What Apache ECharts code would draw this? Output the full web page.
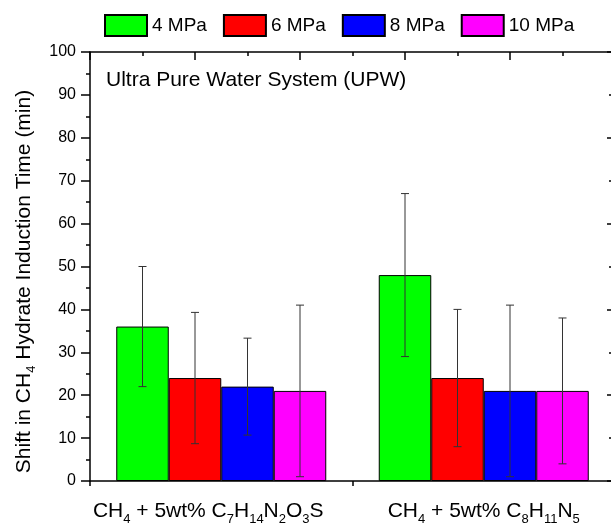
<!DOCTYPE html>
<html>
<head>
<meta charset="utf-8">
<script src="https://cdn.jsdelivr.net/npm/echarts@6/dist/echarts.min.js"></script>
<style>
html,body{margin:0;padding:0;background:#fff}
#chart{width:611px;height:527px}
</style>
</head>
<body>
<div id="chart"></div>
<script>
// values (min), error = half the bar's whisker span
var categories = ["CH4 + 5wt% C7H14N2O3S", "CH4 + 5wt% C8H11N5"]
var pressures = ["4 MPa", "6 MPa", "8 MPa", "10 MPa"]
var colors = ["#00ff00", "#ff0000", "#0000ff", "#ff00ff"]
var p4 = [36, 48]
var p6 = [24, 24]
var p8 = [22, 21]
var p10 = [21, 21]
var err4 = [14, 19]
var err6 = [15.3, 16]
var err8 = [11.3, 20]
var err10 = [20, 17]
var yMin = 0, yMax = 100, yStep = 10
var yTitle = "Shift in CH4 Hydrate Induction Time (min)"
var boxText = "Ultra Pure Water System (UPW)"

var values = [p4, p6, p8, p10]
var errors = [err4, err6, err8, err10]
var font = '"Liberation Sans", Arial, sans-serif'

// turn the digits after an element symbol into subscripts
function subs(s){
  return s.replace(/([A-Za-z])(\d+)/g, "$1{s|$2}")
}

var barSeries = values.map(function(v, k){
  return {
    name: pressures[k],
    type: "bar",
    data: v,
    barGap: "0%",
    barCategoryGap: "20%",
    itemStyle: {color: colors[k], borderColor: "#000", borderWidth: 1},
    emphasis: {disabled: true}
  }
})

var errSeries = values.map(function(v, k){
  return {
    type: "custom",
    z: 5,
    silent: true,
    encode: {x: 0, y: [1, 2]},
    data: v.map(function(val, i){ return [i, val - errors[k][i], val + errors[k][i]] }),
    renderItem: function(params, api){
      var band = api.size([1, 0])[0]
      var bw = band * 0.8 / 4
      var lo = api.coord([api.value(0), api.value(1)])
      var hi = api.coord([api.value(0), api.value(2)])
      var x = lo[0] + (k - 1.5) * bw
      var c = 4
      var st = {stroke: "#333", lineWidth: 1}
      return {type: "group", children: [
        {type: "line", shape: {x1: x, y1: hi[1], x2: x, y2: lo[1]}, style: st},
        {type: "line", shape: {x1: x - c, y1: hi[1], x2: x + c, y2: hi[1]}, style: st},
        {type: "line", shape: {x1: x - c, y1: lo[1], x2: x + c, y2: lo[1]}, style: st}
      ]}
    }
  }
})

var black = {color: "#000", width: 1.5}

var myChart = echarts.init(document.getElementById("chart"))
myChart.setOption({
  animation: false,
  textStyle: {fontFamily: font, color: "#000"},
  grid: {left: 90, right: -4, top: 52, bottom: 46, outerBoundsMode: "none", containLabel: false},
  title: {
    text: boxText,
    left: 106,
    top: 70,
    padding: 0,
    textStyle: {fontFamily: font, fontSize: 21, fontWeight: "normal", color: "#000"}
  },
  legend: {
    data: pressures,
    left: 104,
    top: 14,
    padding: 0,
    itemWidth: 42,
    itemHeight: 21,
    itemGap: 16,
    icon: "rect",
    textStyle: {fontFamily: font, fontSize: 19, color: "#000"}
  },
  xAxis: [
    {
      type: "category",
      data: categories,
      position: "bottom",
      axisLine: {onZero: false, lineStyle: black},
      axisTick: {alignWithLabel: true, interval: 0, length: 9, lineStyle: black},
      axisLabel: {
        interval: 0,
        margin: 15,
        fontSize: 21,
        lineHeight: 30,
        color: "#000",
        formatter: function(v, i){ return subs(v) + (i === 0 ? "{gap|}" : "") },
        rich: {
          s: {fontSize: 13, lineHeight: 12, verticalAlign: "bottom", color: "#000"},
          gap: {width: 26}
        }
      }
    },
    {
      type: "value",
      position: "top",
      min: 0, max: 5, interval: 1,
      axisLine: {onZero: false, lineStyle: black},
      axisTick: {inside: true, length: 8, lineStyle: black},
      minorTick: {show: true, splitNumber: 2, length: 4, lineStyle: black},
      axisLabel: {show: false},
      splitLine: {show: false}
    },
    {
      type: "value",
      position: "bottom",
      min: 0, max: 2, interval: 1,
      axisLine: {show: false, onZero: false},
      axisTick: {length: 5, lineStyle: black},
      axisLabel: {show: false},
      splitLine: {show: false}
    }
  ],
  yAxis: [
    {
      type: "value",
      position: "left",
      min: yMin, max: yMax, interval: yStep,
      axisLine: {show: true, onZero: false, lineStyle: black},
      axisTick: {show: true, length: 9, lineStyle: black},
      minorTick: {show: true, splitNumber: 2, length: 4, lineStyle: black},
      axisLabel: {fontSize: 16, margin: 14, color: "#000"},
      splitLine: {show: false},
      name: subs(yTitle),
      nameLocation: "middle",
      nameGap: 40,
      nameTextStyle: {
        fontSize: 21,
        lineHeight: 28,
        color: "#000",
        padding: [0, 30, 0, 0],
        rich: {s: {fontSize: 13, lineHeight: 11, verticalAlign: "bottom", color: "#000"}}
      }
    },
    {
      type: "value",
      position: "right",
      min: yMin, max: yMax, interval: 20,
      axisLine: {show: true, onZero: false, lineStyle: black},
      axisTick: {show: true, inside: true, length: 8, lineStyle: black},
      minorTick: {show: true, splitNumber: 2, length: 6, lineStyle: black},
      axisLabel: {show: false},
      splitLine: {show: false}
    }
  ],
  series: barSeries.concat(errSeries)
})
</script>
</body>
</html>
